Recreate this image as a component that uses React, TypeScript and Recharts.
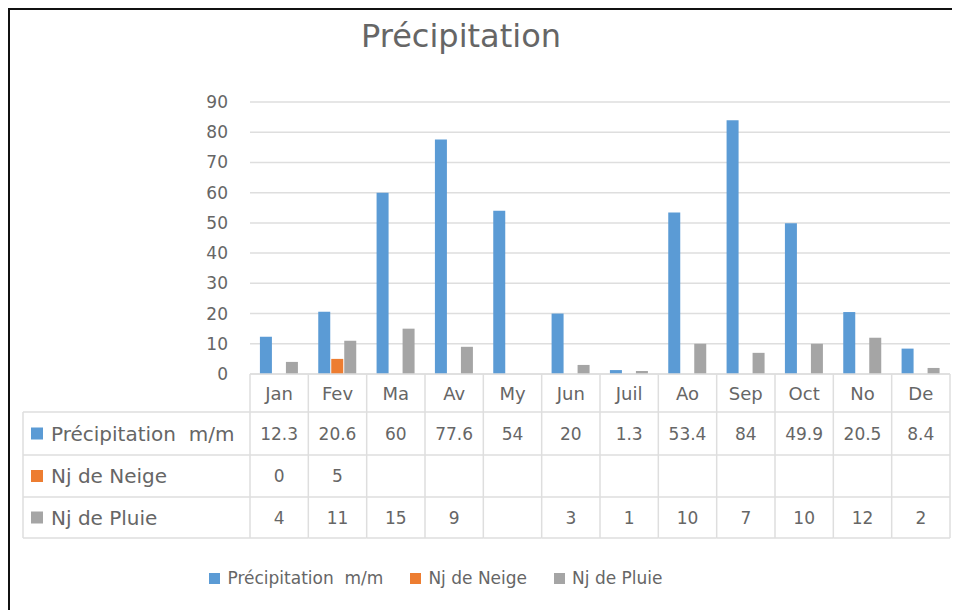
import { BarChart, Bar, XAxis, YAxis, CartesianGrid, Legend } from "recharts";

const months = ["Jan", "Fev", "Ma", "Av", "My", "Jun", "Juil", "Ao", "Sep", "Oct", "No", "De"];
const precipitation = [12.3, 20.6, 60, 77.6, 54, 20, 1.3, 53.4, 84, 49.9, 20.5, 8.4];
const neige = [0, 5, null, null, null, null, null, null, null, null, null, null];
const pluie = [4, 11, 15, 9, null, 3, 1, 10, 7, 10, 12, 2];
const yTicks = [0, 10, 20, 30, 40, 50, 60, 70, 80, 90];

const series = [
  { key: "precip", name: "Précipitation  m/m", color: "#5B9BD5", values: precipitation },
  { key: "neige", name: "Nj de Neige", color: "#ED7D31", values: neige },
  { key: "pluie", name: "Nj de Pluie", color: "#A5A5A5", values: pluie },
];

const data = months.map((m, i) => ({
  month: m,
  precip: precipitation[i],
  neige: neige[i],
  pluie: pluie[i],
}));

const W = 950;
const H = 600;
const PLOT_L = 240;
const PLOT_R = 940;
const BW = (PLOT_R - PLOT_L) / months.length;
const FONT = "'DejaVu Sans', sans-serif";
const TEXT = "#666";
const LINE = "#dedede";
// row boundaries below the axis line
const ROWS = [0, 38, 81, 123, 164];
const LABEL_X = 13;

function TableTick(props: any) {
  const { x, y, index, payload } = props;
  const left = x - BW / 2;
  const right = x + BW / 2;
  const rowMid = (r: number) => (ROWS[r] + ROWS[r + 1]) / 2 + y;
  return (
    <g>
      <line x1={left} x2={left} y1={y} y2={y + ROWS[4]} stroke={LINE} strokeWidth={1.5} />
      {index === months.length - 1 && (
        <line x1={right} x2={right} y1={y} y2={y + ROWS[4]} stroke={LINE} strokeWidth={1.5} />
      )}
      {ROWS.slice(1).map((r) => (
        <line key={r} x1={left} x2={right} y1={y + r} y2={y + r} stroke={LINE} strokeWidth={1.5} />
      ))}
      <text x={x} y={rowMid(0)} textAnchor="middle" dominantBaseline="central" fill={TEXT} fontSize={18} fontFamily={FONT}>
        {payload.value}
      </text>
      {series.map((s, r) =>
        s.values[index] == null ? null : (
          <text key={s.key} x={x} y={rowMid(r + 1)} textAnchor="middle" dominantBaseline="central" fill={TEXT} fontSize={17} fontFamily={FONT}>
            {s.values[index]}
          </text>
        )
      )}
      {index === 0 && (
        <g>
          <line x1={LABEL_X} x2={LABEL_X} y1={y + ROWS[1]} y2={y + ROWS[4]} stroke={LINE} strokeWidth={1.5} />
          {ROWS.slice(1).map((r) => (
            <line key={r} x1={LABEL_X} x2={left} y1={y + r} y2={y + r} stroke={LINE} strokeWidth={1.5} />
          ))}
          {series.map((s, r) => (
            <g key={s.key}>
              <rect x={LABEL_X + 8} y={rowMid(r + 1) - 6} width={12} height={12} fill={s.color} />
              <text
                x={LABEL_X + 28}
                y={rowMid(r + 1)}
                dominantBaseline="central"
                fill={TEXT}
                fontSize={20}
                fontFamily={FONT}
                style={{ whiteSpace: "pre" }}
              >
                {s.name}
              </text>
            </g>
          ))}
        </g>
      )}
    </g>
  );
}

function LegendContent() {
  return (
    <div
      style={{
        display: "flex",
        justifyContent: "center",
        gap: 27,
        height: 24,
        alignItems: "center",
        paddingRight: 88,
        fontFamily: FONT,
        fontSize: 17,
        color: TEXT,
      }}
    >
      {series.map((s) => (
        <div key={s.key} style={{ display: "flex", alignItems: "center", gap: 7, whiteSpace: "pre" }}>
          <span style={{ display: "inline-block", width: 11, height: 11, background: s.color }} />
          {s.name}
        </div>
      ))}
    </div>
  );
}

export default function App() {
  return (
    <div style={{ width: W, height: H, borderTop: "2px solid #111", borderLeft: "2px solid #111", position: "relative", background: "#fff" }}>
      <div style={{ position: "absolute", top: 7, left: 0, width: 902, textAlign: "center", fontFamily: FONT, fontSize: 32, color: "#666" }}>
        Précipitation
      </div>
      <BarChart
        width={W}
        height={H}
        data={data}
        margin={{ top: 92, right: W - PLOT_R, left: 0, bottom: 20 }}
        barCategoryGap="17%"
        barGap={1}
      >
        <CartesianGrid vertical={false} stroke={LINE} strokeWidth={1.5} />
        <YAxis
          width={PLOT_L}
          domain={[0, 90]}
          ticks={yTicks}
          tickLine={false}
          axisLine={false}
          tickSize={0}
          tickMargin={22}
          tick={{ fill: TEXT, fontSize: 17, fontFamily: FONT }}
        />
        <XAxis
          dataKey="month"
          height={192}
          interval={0}
          tickLine={false}
          tickSize={0}
          tickMargin={0}
          axisLine={{ stroke: LINE, strokeWidth: 1.5 }}
          tick={<TableTick />}
        />
        <Legend verticalAlign="bottom" content={<LegendContent />} />
        {series.map((s) => (
          <Bar key={s.key} dataKey={s.key} name={s.name} fill={s.color} isAnimationActive={false} />
        ))}
      </BarChart>
    </div>
  );
}
